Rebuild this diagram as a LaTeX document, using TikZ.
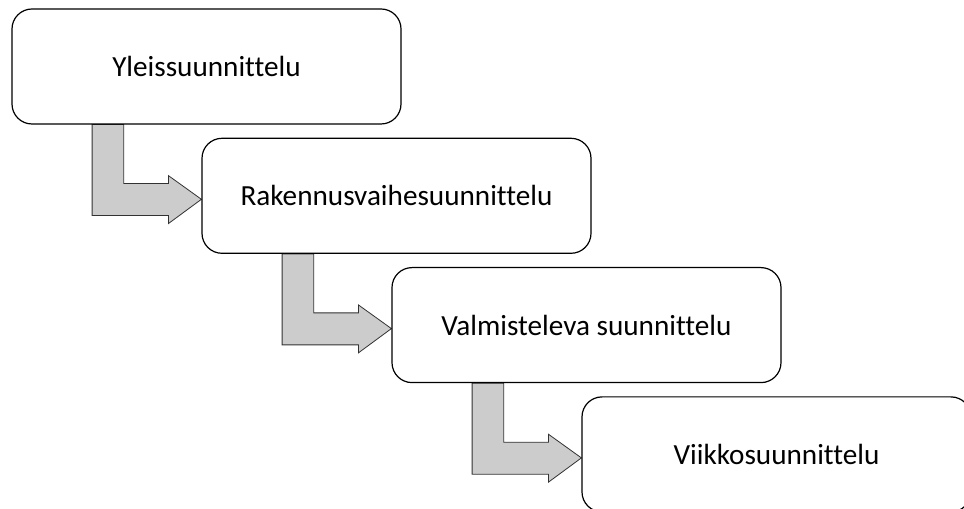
\documentclass[tikz,border=0pt]{standalone}
\usepackage{fontspec}
\setmainfont{Carlito}[Ligatures=NoCommon]
\usetikzlibrary{calc,backgrounds}
\definecolor{arrowgray}{RGB}{204,204,204}
\definecolor{arrowline}{RGB}{50,50,50}
\tikzset{
  stagebox/.style={draw=black, line width=0.9pt, fill=white, rounded corners=15pt,
    minimum width=291.75pt, minimum height=86.25pt, inner sep=0pt,
    font=\fontsize{21.9pt}{26pt}\selectfont},
  bentarrow/.style={draw=arrowline, line width=0.6pt, fill=arrowgray, line join=miter}
}
\begin{document}
\begin{tikzpicture}[x=0.75pt,y=-0.75pt]
\useasboundingbox (0,0) rectangle (964,509);
\clip (0,0) rectangle (964,509);
\node[stagebox] (b1) at (206.5,66.5) {Yleissuunnittelu};
\node[stagebox] (b2) at (396.5,195.8) {Rakennusvaihesuunnittelu};
\node[stagebox] (b3) at (586.5,325.1) {Valmisteleva suunnittelu};
\node[stagebox] (b4) at (776.5,454.4) {Viikkosuunnittelu};
\begin{pgfonlayer}{background}
\foreach \s/\t in {b1/b2,b2/b3,b3/b4}{
  \coordinate (A) at (\s.south west);
  \coordinate (T) at ($(\t.west)+(0,3.5)$);
  \draw[bentarrow]
    ($(A)+(80.7,0)$) -- ($(A)+(112.3,0)$) -- ($(A)+(112.3,59)$) -- ($(A)+(157,59)$)
    -- ($(A)+(157,51)$) -- (T) -- ($(A)+(157,99)$) -- ($(A)+(157,91)$)
    -- ($(A)+(80.7,91)$) -- cycle;
}
\end{pgfonlayer}
\end{tikzpicture}
\end{document}
